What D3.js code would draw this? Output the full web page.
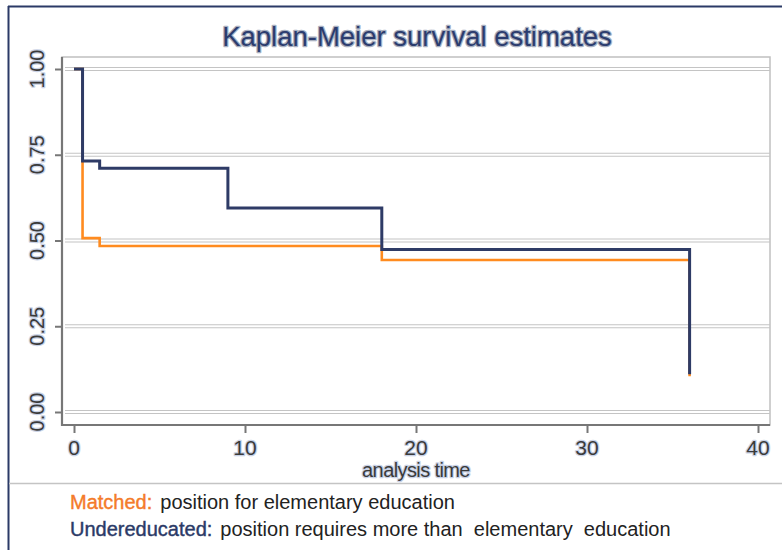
<!DOCTYPE html>
<html><head><meta charset="utf-8">
<script src="https://cdn.jsdelivr.net/npm/d3@7"></script>
<style>body{margin:0;background:#fff}svg{display:block}</style>
</head><body>
<svg id="c" width="782" height="550"></svg>
<script>
// Data
const matchedTimes = [0, 0.5, 1.5, 18, 36];
const matchedSurv = [1.00, 0.507, 0.484, 0.443, 0.104];
const underTimes = [0, 0.5, 1.5, 9, 18, 36];
const underSurv = [1.00, 0.732, 0.711, 0.595, 0.474, 0.11];
const xTicks = [0, 10, 20, 30, 40];
const yTicks = [0, 0.25, 0.5, 0.75, 1.0];
const yTickLabels = ["0.00", "0.25", "0.50", "0.75", "1.00"];
const titleText = "Kaplan-Meier survival estimates";
const xTitle = "analysis time";
const legendRows = [
  {key: "Matched:", text: "position for elementary education", color: "#f47b2a"},
  {key: "Undereducated:", text: "position requires more than  elementary  education", color: "#2b3a67"}
];

const svg = d3.select("#c");
const x = d3.scaleLinear().domain([0, 40]).range([74, 758]);
const y = d3.scaleLinear().domain([0, 1]).range([412, 69]);

// outer frame
svg.append("line").attr("x1", 8).attr("x2", 782).attr("y1", 6.5).attr("y2", 6.5).attr("stroke", "#2b3a67").attr("stroke-width", 2);
svg.append("line").attr("x1", 8.5).attr("x2", 8.5).attr("y1", 6).attr("y2", 550).attr("stroke", "#2b3a67").attr("stroke-width", 2);
svg.append("line").attr("x1", 9).attr("x2", 782).attr("y1", 483.5).attr("y2", 483.5).attr("stroke", "#c4c4c4").attr("stroke-width", 1.5);

// plot region box
svg.append("rect").attr("x", 62).attr("y", 57).attr("width", 708).attr("height", 368)
  .attr("fill", "none").attr("stroke", "#c0c0c0").attr("stroke-width", 1.5);

// grid (double lines like the reference)
const grid = svg.append("g");
yTicks.forEach(v => {
  [-1.5, 1.5].forEach(o => {
    grid.append("line").attr("x1", 65).attr("x2", 770)
      .attr("y1", y(v) + o).attr("y2", y(v) + o)
      .attr("stroke", "#c4c4c4").attr("stroke-width", 1.2);
  });
});

// axes
const yAxis = d3.axisLeft(y).tickValues(yTicks).tickSize(7).tickFormat((d, i) => yTickLabels[i]);
const gy = svg.append("g").attr("transform", "translate(62,0)").call(yAxis);
gy.select(".domain").remove();
gy.selectAll(".tick line").attr("stroke", "#777").attr("stroke-width", 2);
gy.selectAll(".tick text").remove();
svg.append("line").attr("x1", 62).attr("x2", 62).attr("y1", 57).attr("y2", 426).attr("stroke", "#777").attr("stroke-width", 2.2);

const xAxis = d3.axisBottom(x).tickValues(xTicks).tickSize(8).tickFormat(d3.format("d"));
const gx = svg.append("g").attr("transform", "translate(0,425)").call(xAxis);
gx.select(".domain").remove();
gx.selectAll(".tick line").attr("stroke", "#777").attr("stroke-width", 2);
gx.selectAll(".tick text").remove();
svg.append("line").attr("x1", 61).attr("x2", 770).attr("y1", 425).attr("y2", 425).attr("stroke", "#777").attr("stroke-width", 2.2);

function halo(sel, stroke) {
  return sel.attr("stroke", stroke).attr("stroke-width", 2.5).attr("paint-order", "stroke").attr("stroke-linejoin", "round");
}

// y tick labels
yTicks.forEach((v, i) => {
  halo(svg.append("text")
    .attr("transform", `translate(44,${y(v)}) rotate(-90)`)
    .attr("text-anchor", "middle")
    .attr("font-family", "Liberation Sans Narrow, Arial Narrow, Liberation Sans, sans-serif")
    .attr("font-size", 20)
    .attr("fill", "#3a3a3a")
    .text(yTickLabels[i]), "#c9d2e6");
});

// x tick labels
xTicks.forEach(v => {
  halo(svg.append("text")
    .attr("x", x(v)).attr("y", 455)
    .attr("text-anchor", "middle")
    .attr("font-family", "Liberation Sans Narrow, Arial Narrow, Liberation Sans, sans-serif")
    .attr("font-size", 21)
    .attr("fill", "#3a3a3a")
    .text(d3.format("d")(v)), "#c9d2e6");
});

halo(svg.append("text")
  .attr("x", 416).attr("y", 477)
  .attr("text-anchor", "middle")
  .attr("font-family", "Liberation Sans Narrow, Arial Narrow, Liberation Sans, sans-serif")
  .attr("font-size", 20)
  .attr("letter-spacing", -0.6)
  .attr("fill", "#3a3a3a")
  .text(xTitle), "#c9d2e6");

// title
halo(svg.append("text")
  .attr("x", 417).attr("y", 46)
  .attr("text-anchor", "middle")
  .attr("font-family", "Liberation Sans, Arial, sans-serif")
  .attr("font-size", 27.5)
  .attr("fill", "#2b3c6e")
  .text(titleText), "#a9b0bf");

// step lines
const line = d3.line().x(d => x(d[0])).y(d => y(d[1])).curve(d3.curveStepAfter);

svg.append("path").datum(matchedTimes.map((t, i) => [t, matchedSurv[i]]))
  .attr("d", line).attr("fill", "none").attr("stroke", "#ff8b1f").attr("stroke-width", 2.6);
svg.append("path").datum(underTimes.map((t, i) => [t, underSurv[i]]))
  .attr("d", line).attr("fill", "none").attr("stroke", "#2e3b66").attr("stroke-width", 3);

// legend
legendRows.forEach((r, i) => {
  const t = svg.append("text")
    .attr("x", 70).attr("y", 509 + i * 27)
    .attr("font-family", "Liberation Sans, Arial, sans-serif")
    .attr("font-size", 20)
    .style("white-space", "pre");
  t.append("tspan").attr("fill", r.color).attr("stroke", r.color).attr("stroke-width", 0.4).text(r.key);
  t.append("tspan").attr("fill", "#222").attr("dx", 8).text(r.text);
});
</script>
</body></html>
